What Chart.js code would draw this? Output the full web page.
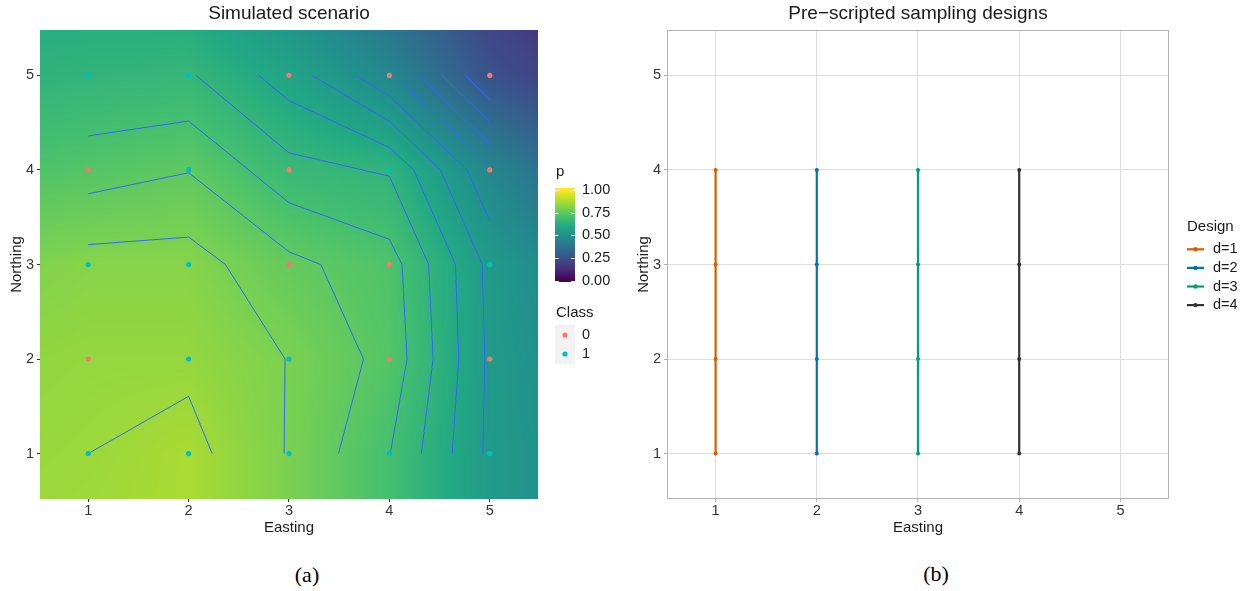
<!DOCTYPE html>
<html>
<head>
<meta charset="utf-8">
<script src="https://cdn.jsdelivr.net/npm/chart.js@4.4.0/dist/chart.umd.min.js"></script>
<style>
body { margin: 0; background: #fff; width: 1252px; height: 591px; position: relative; overflow: hidden; }
canvas { position: absolute; top: 0; }
#chartA { left: 0; }
#chartB { left: 630px; }
.cap { position: absolute; font-family: "Liberation Serif", "Times New Roman", serif; font-size: 22px; color: #000; transform: translate(-50%, -50%); }
</style>
</head>
<body>
<canvas id="chartA" width="630" height="545"></canvas>
<canvas id="chartB" width="622" height="545"></canvas>
<div class="cap" style="left:307px; top:575px">(a)</div>
<div class="cap" style="left:936px; top:574px">(b)</div>
<script>
// axis breaks
var eastingTicks = [1, 2, 3, 4, 5];
var northingTicks = [1, 2, 3, 4, 5];

// sampled sites and their class (panel a)
var siteEasting  = [1, 2, 3, 4, 5, 1, 2, 3, 4, 5, 1, 2, 3, 4, 5, 1, 2, 3, 4, 5, 1, 2, 3, 4, 5];
var siteNorthing = [5, 5, 5, 5, 5, 4, 4, 4, 4, 4, 3, 3, 3, 3, 3, 2, 2, 2, 2, 2, 1, 1, 1, 1, 1];
var siteClass    = [1, 1, 0, 0, 0, 0, 1, 0, 1, 0, 1, 1, 0, 0, 1, 0, 1, 1, 0, 0, 1, 1, 1, 1, 1];
var classNames = ['0', '1'];

// p surface (rows follow pGridNorthing, columns pGridEasting)
var pGridEasting  = [0.5, 1, 2, 3, 4, 5, 5.5];
var pGridNorthing = [5.5, 5, 4, 3, 2, 1, 0.5];
var pGrid = [
    [0.62, 0.62, 0.62, 0.53, 0.40, 0.21, 0.17],
    [0.64, 0.65, 0.66, 0.58, 0.46, 0.25, 0.20],
    [0.72, 0.73, 0.75, 0.67, 0.645, 0.46, 0.38],
    [0.81, 0.82, 0.82, 0.76, 0.72, 0.54, 0.48],
    [0.835, 0.84, 0.84, 0.80, 0.73, 0.54, 0.50],
    [0.845, 0.85, 0.87, 0.80, 0.70, 0.54, 0.51],
    [0.85, 0.855, 0.87, 0.80, 0.70, 0.54, 0.51]
];
var pBarTicks = [0, 0.25, 0.5, 0.75, 1];

// contour lines of p, as [easting, northing] vertices
var contourLines = [
    [[1, 1], [2, 1.606], [2.235, 1]],
    [[1, 3.21], [2, 3.29], [2.367, 3], [2.961, 2], [2.951, 1]],
    [[1, 3.748], [2, 3.97], [3, 3.134], [3.317, 3], [3.742, 2], [3.493, 1]],
    [[1, 4.36], [2, 4.517], [3, 3.653], [4, 3.266], [4.126, 3], [4.176, 2], [4.009, 1]],
    [[2.073, 5], [3, 4.181], [4, 3.934], [4.391, 3], [4.435, 2], [4.318, 1]],
    [[2.699, 5], [3, 4.733], [4, 4.237], [4.242, 4], [4.658, 3], [4.691, 2], [4.625, 1]],
    [[3.228, 5], [4, 4.515], [4.508, 4], [4.924, 3], [4.95, 2], [4.93, 1]],
    [[3.663, 5], [4, 4.78], [4.774, 4], [5, 3.459]],
    [[4.049, 5], [5, 4.04]],
    [[4.291, 5], [5, 4.279]],
    [[4.525, 5], [5, 4.508]],
    [[4.757, 5], [5, 4.744]]
];

// pre-scripted designs (panel b)
var designNames = ['d=1', 'd=2', 'd=3', 'd=4'];
var designEasting = [1, 2, 3, 4];
var designNorthing = [1, 2, 3, 4];

// styles
var classColors = ['#F8766D', '#00BFC4'];
var designColors = ['#D55E00', '#0072B2', '#009E73', '#333333'];
var viridisStops = [
    [68, 1, 84], [72, 36, 117], [65, 68, 135], [53, 95, 141], [42, 120, 142],
    [33, 145, 140], [34, 168, 132], [68, 191, 112], [122, 209, 81], [189, 223, 38], [253, 231, 37]
];
var fontFamily = '"Liberation Sans", Arial, Helvetica, sans-serif';
Chart.defaults.font.family = fontFamily;
Chart.defaults.color = '#333';

function viridis(p)
{
    p = Math.min(1, Math.max(0, p));
    var f = p * (viridisStops.length - 1);
    var i = Math.min(Math.floor(f), viridisStops.length - 2);
    var t = f - i;
    var a = viridisStops[i], b = viridisStops[i + 1];
    return [a[0] + (b[0] - a[0]) * t, a[1] + (b[1] - a[1]) * t, a[2] + (b[2] - a[2]) * t];
}

function segment(arr, v)
{
    for (var k = 0; k < arr.length - 1; k++)
    {
        var lo = Math.min(arr[k], arr[k + 1]), hi = Math.max(arr[k], arr[k + 1]);
        if (v >= lo && v <= hi) return [k, (v - arr[k]) / (arr[k + 1] - arr[k])];
    }
    // outside the grid: clamp to nearest end
    var first = Math.abs(v - arr[0]) < Math.abs(v - arr[arr.length - 1]);
    return first ? [0, 0] : [arr.length - 2, 1];
}

function pAt(x, y)
{
    var sx = segment(pGridEasting, x), sy = segment(pGridNorthing, y);
    var i = sx[0], tx = sx[1], j = sy[0], ty = sy[1];
    var top = pGrid[j][i] * (1 - tx) + pGrid[j][i + 1] * tx;
    var bot = pGrid[j + 1][i] * (1 - tx) + pGrid[j + 1][i + 1] * tx;
    return top * (1 - ty) + bot * ty;
}

function setTicks(list)
{
    return function(scale) { scale.ticks = list.map(function(v) { return {value: v}; }); };
}

// the p surface, painted cell by cell through the chart scales
var rasterPlugin = {
    id: 'raster',
    beforeDatasetsDraw: function(chart)
    {
        var a = chart.chartArea, xs = chart.scales.x, ys = chart.scales.y;
        var w = Math.round(a.right - a.left), h = Math.round(a.bottom - a.top);
        var off = document.createElement('canvas');
        off.width = w; off.height = h;
        var octx = off.getContext('2d');
        var img = octx.createImageData(w, h);
        for (var j = 0; j < h; j++)
        {
            var yv = ys.getValueForPixel(a.top + j + 0.5);
            for (var i = 0; i < w; i++)
            {
                var xv = xs.getValueForPixel(a.left + i + 0.5);
                var c = viridis(pAt(xv, yv));
                var k = (j * w + i) * 4;
                img.data[k] = c[0]; img.data[k + 1] = c[1]; img.data[k + 2] = c[2]; img.data[k + 3] = 255;
            }
        }
        octx.putImageData(img, 0, 0);
        chart.ctx.drawImage(off, Math.round(a.left), Math.round(a.top));
    }
};

// colour bar + class legend for panel a
var legendA = {
    id: 'legendA',
    afterDraw: function(chart)
    {
        var ctx = chart.ctx;
        ctx.save();
        ctx.fillStyle = '#1a1a1a';
        ctx.textAlign = 'left';
        ctx.textBaseline = 'alphabetic';
        ctx.font = '15px ' + fontFamily;
        ctx.fillText('p', 556, 176);
        // bar
        var barX = 555, barW = 20, y0 = 280.7, y1 = 190;
        var barTop = 188, barBot = 282;
        for (var y = barTop; y < barBot; y++)
        {
            var c = viridis((y0 - (y + 0.5)) / (y0 - y1));
            ctx.fillStyle = 'rgb(' + Math.round(c[0]) + ',' + Math.round(c[1]) + ',' + Math.round(c[2]) + ')';
            ctx.fillRect(barX, y, barW, 1);
        }
        ctx.strokeStyle = '#fff';
        ctx.lineWidth = 1;
        ctx.font = '14.5px ' + fontFamily;
        ctx.textBaseline = 'middle';
        ctx.fillStyle = '#1a1a1a';
        pBarTicks.forEach(function(v)
        {
            var ty = Math.round(y0 - v * (y0 - y1)) + 0.5;
            ctx.beginPath();
            ctx.moveTo(barX, ty); ctx.lineTo(barX + 4, ty);
            ctx.moveTo(barX + barW - 4, ty); ctx.lineTo(barX + barW, ty);
            ctx.stroke();
            ctx.fillText(v.toFixed(2), 582, y0 - v * (y0 - y1));
        });
        // class legend
        ctx.textBaseline = 'alphabetic';
        ctx.font = '15px ' + fontFamily;
        ctx.fillText('Class', 556, 317);
        ctx.fillStyle = '#F2F2F2';
        ctx.fillRect(555, 325, 20, 39);
        ctx.font = '14.5px ' + fontFamily;
        ctx.textBaseline = 'middle';
        var rows = [335, 354];
        for (var k = 0; k < 2; k++)
        {
            var ds = chart.data.datasets[k];
            ctx.fillStyle = ds.backgroundColor;
            ctx.beginPath();
            ctx.arc(565, rows[k], 2.6, 0, Math.PI * 2);
            ctx.fill();
            ctx.fillStyle = '#1a1a1a';
            ctx.fillText(ds.label, 582, rows[k]);
        }
        ctx.restore();
    }
};

// panel border + design legend for panel b
var frameB = {
    id: 'frameB',
    beforeDatasetsDraw: function(chart)
    {
        var a = chart.chartArea, ctx = chart.ctx;
        ctx.save();
        ctx.strokeStyle = '#B3B3B3';
        ctx.lineWidth = 1;
        ctx.strokeRect(a.left + 0.5, a.top + 0.5, a.right - a.left - 1, a.bottom - a.top - 1);
        ctx.restore();
    },
    afterDraw: function(chart)
    {
        var ctx = chart.ctx;
        var lx = 1187 - 630;
        ctx.save();
        ctx.fillStyle = '#1a1a1a';
        ctx.textAlign = 'left';
        ctx.textBaseline = 'alphabetic';
        ctx.font = '15px ' + fontFamily;
        ctx.fillText('Design', lx, 231);
        ctx.font = '14.5px ' + fontFamily;
        ctx.textBaseline = 'middle';
        chart.data.datasets.forEach(function(ds, k)
        {
            var ry = 249.3 + k * 18.6;
            ctx.strokeStyle = ds.borderColor;
            ctx.lineWidth = 2.2;
            ctx.beginPath();
            ctx.moveTo(lx, ry); ctx.lineTo(lx + 17, ry);
            ctx.stroke();
            ctx.fillStyle = ds.borderColor;
            ctx.beginPath();
            ctx.arc(lx + 8.5, ry, 2.2, 0, Math.PI * 2);
            ctx.fill();
            ctx.fillStyle = '#1a1a1a';
            ctx.fillText(ds.label, lx + 26, ry);
        });
        ctx.restore();
    }
};

function axisOptions(kind, breaks, fixedSize, titleText, titlePad, tickColor, gridOn)
{
    var o = {
        type: 'linear', min: 0.52, max: 5.48,
        afterBuildTicks: setTicks(breaks),
        grid: {display: true, drawOnChartArea: gridOn, color: '#DEDEDE', lineWidth: 1,
               drawTicks: true, tickLength: 3, tickColor: tickColor, tickWidth: 1},
        border: {display: false},
        ticks: {font: {size: 14.5}, color: '#333', maxRotation: 0, autoSkip: false},
        title: {display: true, text: titleText, font: {size: 15}, color: '#1a1a1a', padding: titlePad}
    };
    if (kind == 'x')
    {
        o.afterFit = function(s) { s.height = fixedSize; };
        o.ticks.padding = 0;
    }
    else
    {
        o.afterFit = function(s) { s.width = fixedSize; };
        o.ticks.padding = 3;
    }
    return o;
}

function bilan()
{
    var class0 = [], class1 = [];
    for (var i = 0; i < siteClass.length; i++)
    {
        var pt = {x: siteEasting[i], y: siteNorthing[i]};
        if (siteClass[i] == 1) class1.push(pt); else class0.push(pt);
    }
    var datasetsA = [
        {label: classNames[0], data: class0, backgroundColor: classColors[0], borderWidth: 0, pointRadius: 2.6, order: 0},
        {label: classNames[1], data: class1, backgroundColor: classColors[1], borderWidth: 0, pointRadius: 2.6, order: 0}
    ];
    contourLines.forEach(function(line)
    {
        datasetsA.push({
            data: line.map(function(v) { return {x: v[0], y: v[1]}; }),
            showLine: true, borderColor: '#3366FF', borderWidth: 1, pointRadius: 0,
            fill: false, tension: 0, order: 1
        });
    });

    new Chart(document.getElementById('chartA'), {
        type: 'scatter',
        data: {datasets: datasetsA},
        options: {
            responsive: false, animation: false, devicePixelRatio: 1,
            layout: {padding: {left: 0, right: 92, top: 0, bottom: 0}},
            plugins: {
                legend: {display: false}, tooltip: {enabled: false},
                title: {display: true, text: 'Simulated scenario', fullSize: false, color: '#1a1a1a',
                        font: {size: 19, weight: 'normal'}, padding: {top: 2.6, bottom: 4.6}}
            },
            scales: {
                x: axisOptions('x', eastingTicks, 46, 'Easting', {top: 0, bottom: 8}, '#333', false),
                y: axisOptions('y', northingTicks, 40, 'Northing', {top: 8, bottom: 0}, '#333', false)
            }
        },
        plugins: [rasterPlugin, legendA]
    });

    var datasetsB = designNames.map(function(name, k)
    {
        return {
            label: name,
            data: designNorthing.map(function(n) { return {x: designEasting[k], y: n}; }),
            showLine: true, borderColor: designColors[k], backgroundColor: designColors[k],
            borderWidth: 2.2, pointRadius: 2, pointBorderWidth: 0, tension: 0
        };
    });

    new Chart(document.getElementById('chartB'), {
        type: 'scatter',
        data: {datasets: datasetsB},
        options: {
            responsive: false, animation: false, devicePixelRatio: 1,
            layout: {padding: {left: 0, right: 83, top: 0, bottom: 0}},
            plugins: {
                legend: {display: false}, tooltip: {enabled: false},
                title: {display: true, text: 'Pre\u2212scripted sampling designs', fullSize: false, color: '#1a1a1a',
                        font: {size: 19, weight: 'normal'}, padding: {top: 2.6, bottom: 4.6}}
            },
            scales: {
                x: axisOptions('x', eastingTicks, 46, 'Easting', {top: 0, bottom: 8}, '#B3B3B3', true),
                y: axisOptions('y', northingTicks, 37, 'Northing', {top: 5, bottom: 0}, '#B3B3B3', true)
            }
        },
        plugins: [frameB]
    });
}
bilan();
</script>
</body>
</html>
